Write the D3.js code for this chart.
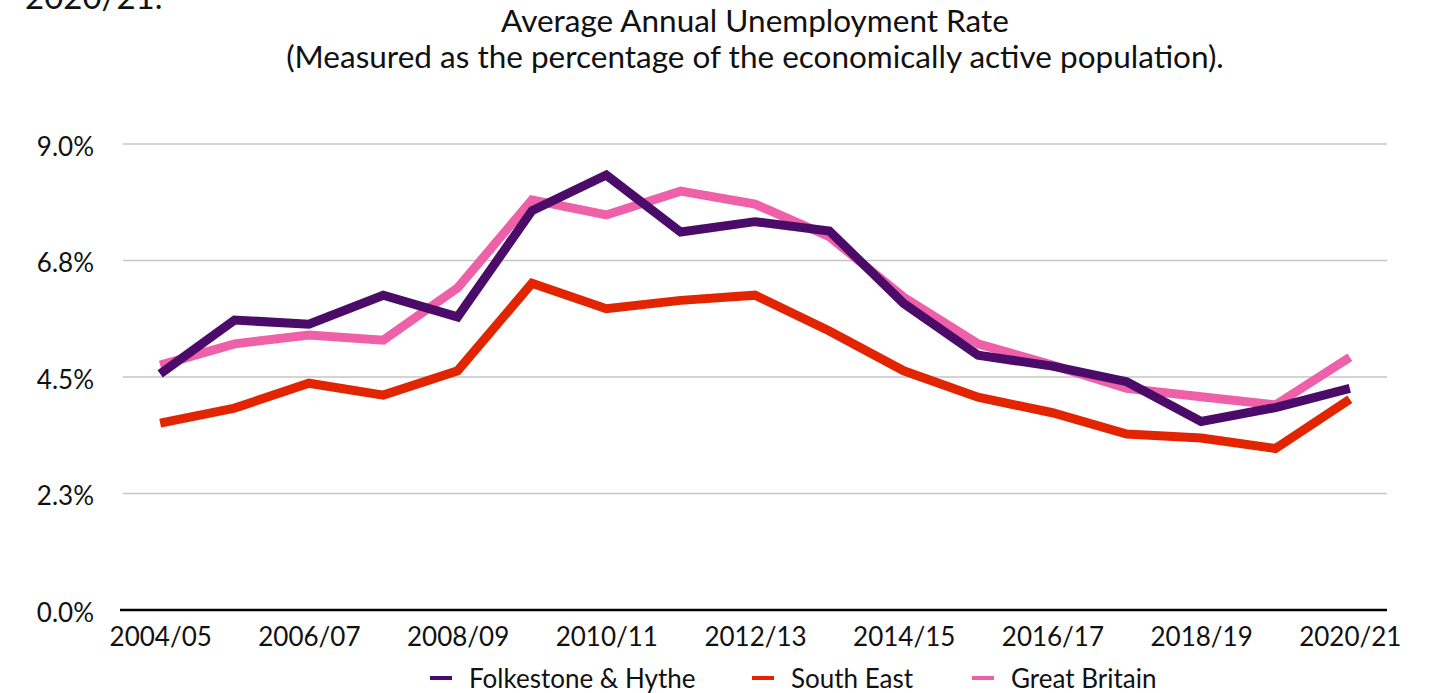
<!DOCTYPE html>
<html>
<head>
<meta charset="utf-8">
<script src="https://cdn.jsdelivr.net/npm/d3@7"></script>
<style>
  html, body { margin: 0; padding: 0; background: #fff; }
  svg { display: block; font-family: Lato, "Noto Sans", sans-serif; }
</style>
</head>
<body>
<svg id="chart" width="1434" height="693"></svg>
<script>
// Financial years shown along the x axis
const years = ["2004/05","2005/06","2006/07","2007/08","2008/09","2009/10","2010/11","2011/12",
  "2012/13","2013/14","2014/15","2015/16","2016/17","2017/18","2018/19","2019/20","2020/21"];

// Unemployment rate (% of economically active population)
const folkestone = [4.56,5.60,5.52,6.08,5.66,7.71,8.40,7.30,7.50,7.32,5.92,4.92,4.71,4.41,3.64,3.91,4.28];
const southEast  = [3.61,3.90,4.38,4.15,4.62,6.31,5.82,5.98,6.08,5.39,4.62,4.11,3.81,3.40,3.32,3.12,4.07];
const greatBritain = [4.73,5.14,5.31,5.21,6.22,7.92,7.63,8.09,7.84,7.21,6.04,5.14,4.73,4.28,4.12,3.96,4.88];

const yTicks = [0, 2.25, 4.5, 6.75, 9];
const xTickLabels = years.filter((d, i) => i % 2 === 0);

const seriesNames = ["Folkestone & Hythe", "South East", "Great Britain"];
const seriesColors = ["#4b0b69", "#e22400", "#ee60a8"];
const seriesValues = [folkestone, southEast, greatBritain];

const svg = d3.select("#chart");
const margin = { left: 123, right: 47, top: 144, bottom: 83 };
const W = 1434, H = 693;

const x = d3.scalePoint().domain(years).range([margin.left, W - margin.right]).padding(0.5);
const y = d3.scaleLinear().domain([0, 9]).range([H - margin.bottom, margin.top]);

// Clipped heading above the chart
svg.append("text")
  .attr("x", 25).attr("y", 9)
  .attr("font-size", 33).attr("fill", "#111")
  .text("2020/21.");

// Title
svg.append("text")
  .attr("x", 755).attr("y", 32)
  .attr("text-anchor", "middle").attr("font-size", 31.5).attr("fill", "#111")
  .text("Average Annual Unemployment Rate");
svg.append("text")
  .attr("x", 755).attr("y", 68)
  .attr("text-anchor", "middle").attr("font-size", 31.5).attr("fill", "#111")
  .text("(Measured as the percentage of the economically active population).");

// Gridlines
svg.append("g")
  .selectAll("line")
  .data(yTicks.filter(d => d > 0))
  .join("line")
  .attr("x1", margin.left).attr("x2", W - margin.right)
  .attr("y1", d => y(d)).attr("y2", d => y(d))
  .attr("stroke", "#c6c6c6").attr("stroke-width", 1.5);

// Y axis labels
const yAxis = d3.axisLeft(y).tickValues(yTicks).tickFormat(d => d3.format(".1f")(d) + "%").tickSize(0).tickPadding(29);
svg.append("g")
  .attr("transform", `translate(${margin.left},0)`)
  .call(yAxis)
  .call(g => g.select(".domain").remove())
  .call(g => g.selectAll("text").attr("font-size", 26).attr("dy", "0.44em").attr("fill", "#111").attr("font-family", "Lato, sans-serif"));

// X axis
const xAxis = d3.axisBottom(x).tickValues(xTickLabels).tickSize(0).tickPadding(18);
svg.append("g")
  .attr("transform", `translate(0,${y(0)})`)
  .call(xAxis)
  .call(g => g.select(".domain").remove())
  .call(g => g.selectAll("text").attr("font-size", 26).attr("fill", "#111").attr("font-family", "Lato, sans-serif"));

svg.append("line")
  .attr("x1", 120).attr("x2", W - margin.right)
  .attr("y1", y(0)).attr("y2", y(0))
  .attr("stroke", "#000").attr("stroke-width", 2.5);

// Series lines
const line = d3.line().x((d, i) => x(years[i])).y(d => y(d));
// draw order: pink, red, purple on top
[2, 1, 0].forEach(k => {
  svg.append("path")
    .datum(seriesValues[k])
    .attr("d", line)
    .attr("fill", "none")
    .attr("stroke", seriesColors[k])
    .attr("stroke-width", 9)
    .attr("stroke-linejoin", "miter");
});

// Legend
const legendX = [430, 752, 972];
const legend = svg.append("g");
seriesNames.forEach((name, k) => {
  legend.append("line")
    .attr("x1", legendX[k]).attr("x2", legendX[k] + 22)
    .attr("y1", 678).attr("y2", 678)
    .attr("stroke", seriesColors[k]).attr("stroke-width", 4);
  legend.append("text")
    .attr("x", legendX[k] + 39).attr("y", 688)
    .attr("font-size", 26).attr("fill", "#111")
    .text(name);
});
</script>
</body>
</html>
